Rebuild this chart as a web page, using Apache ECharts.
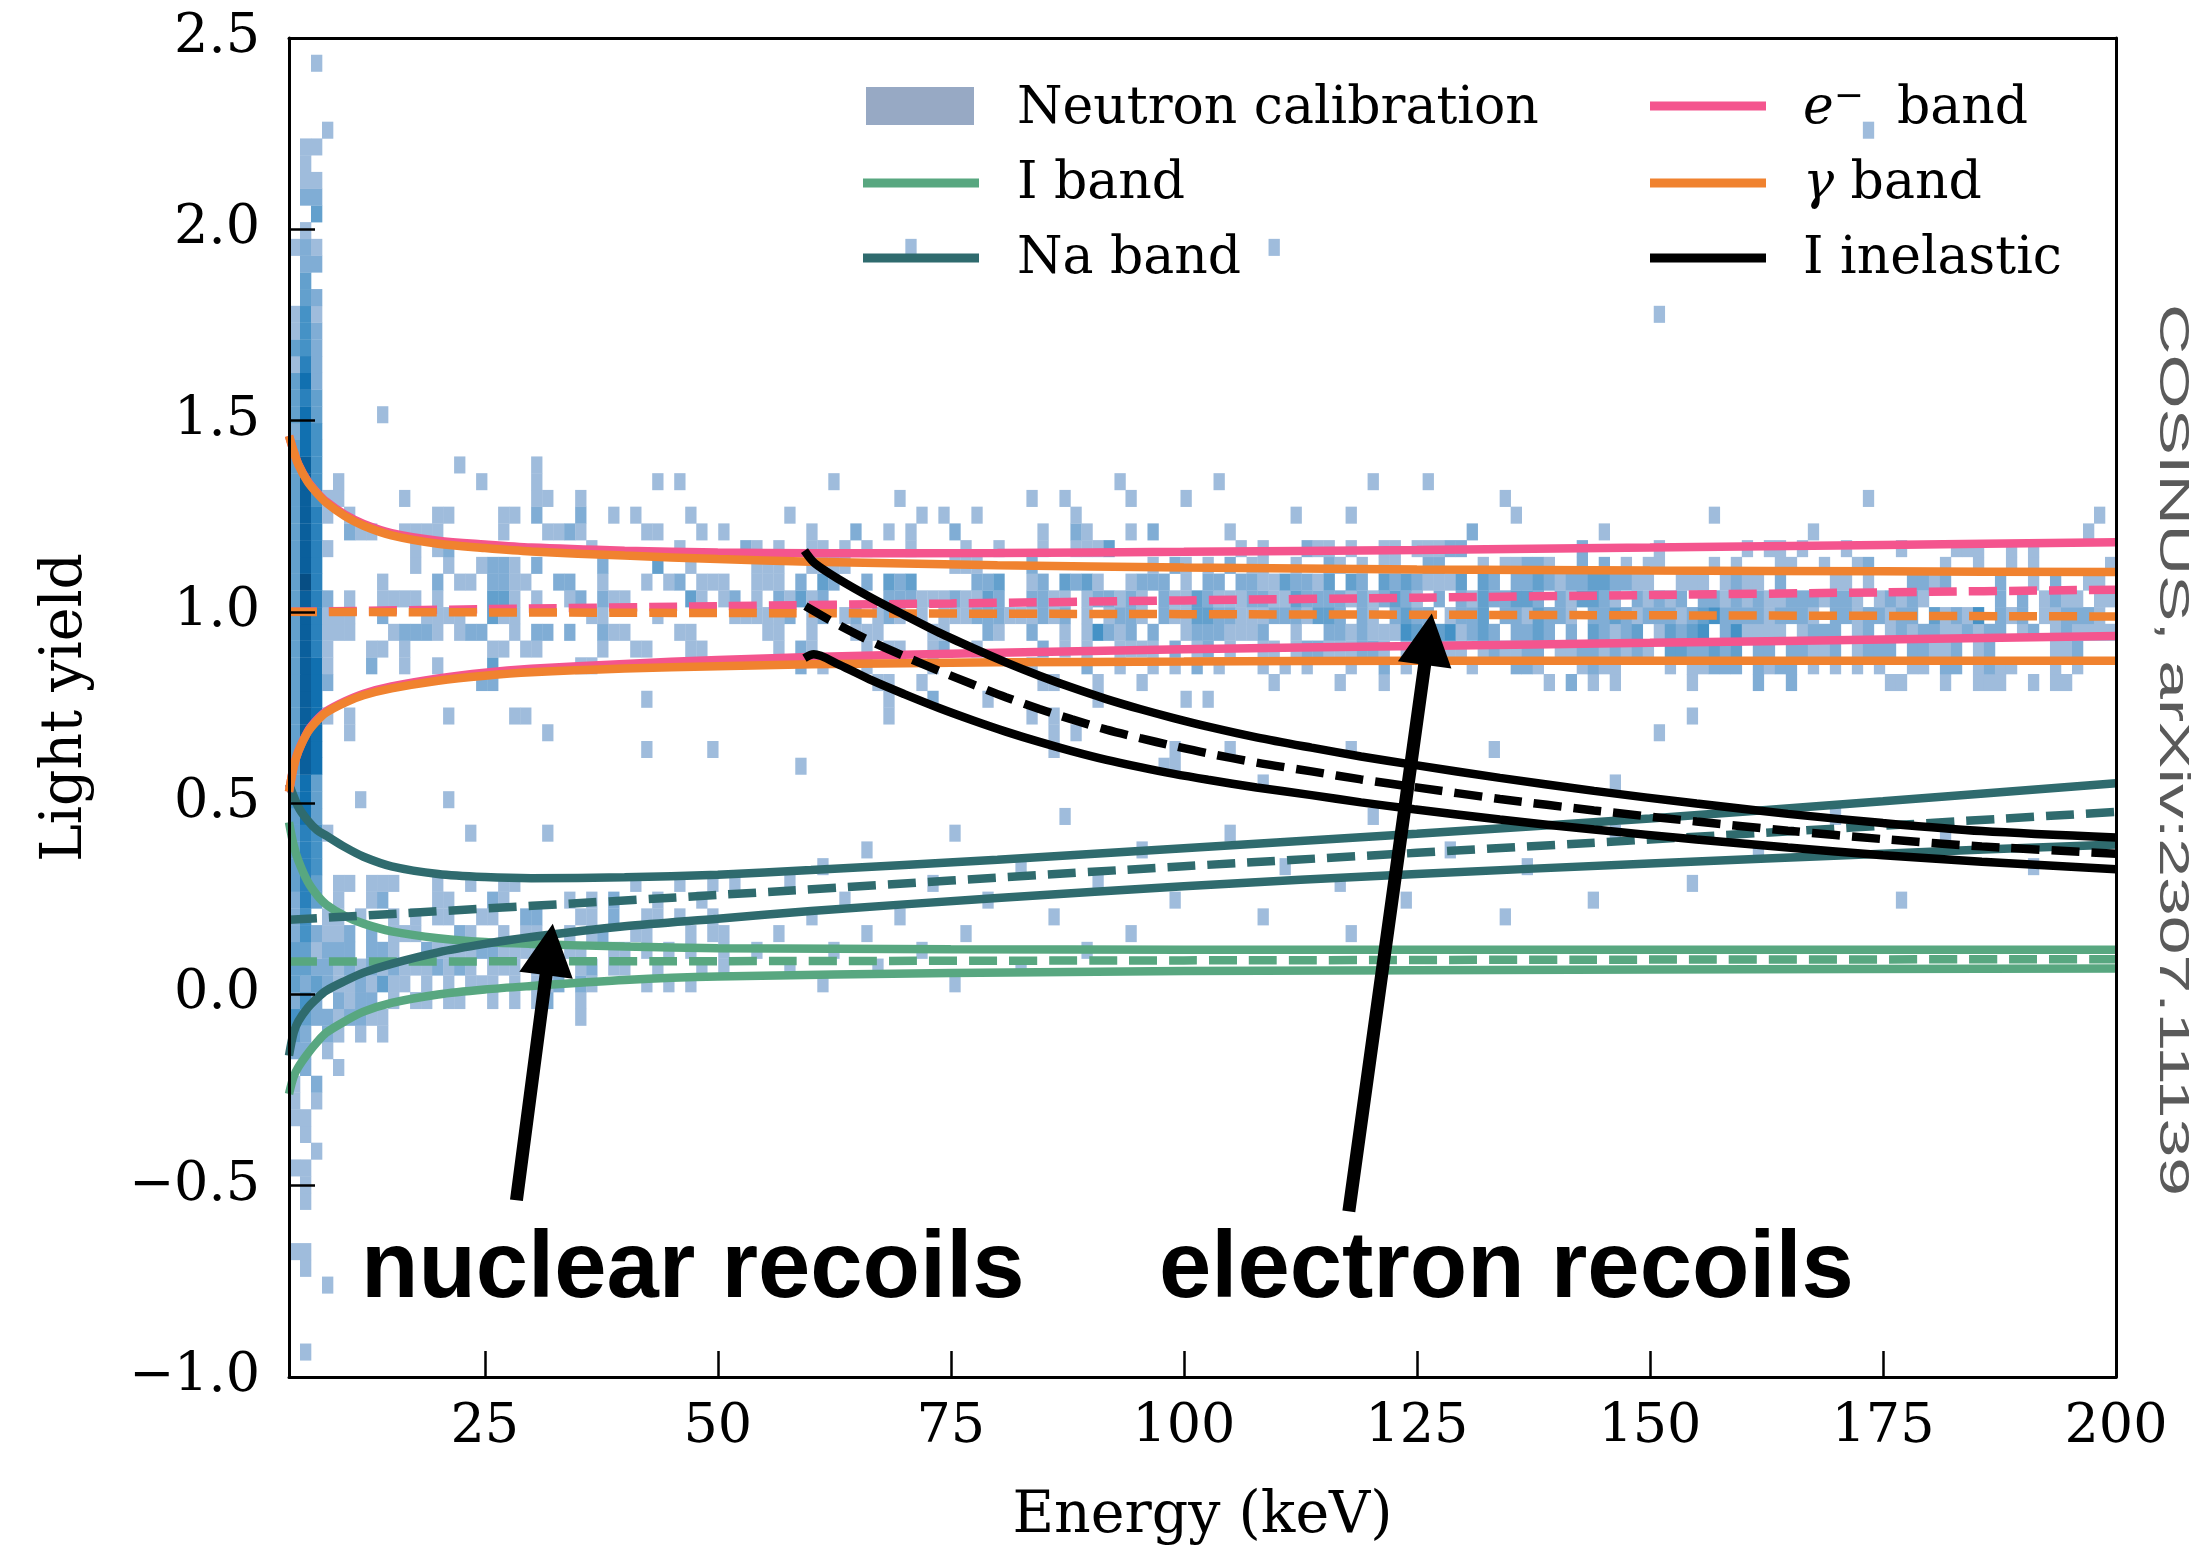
<!DOCTYPE html>
<html><head><meta charset="utf-8">
<script src="https://cdn.jsdelivr.net/npm/echarts@6/dist/echarts.min.js"></script>
<style>html,body{margin:0;padding:0;background:#fff}#c{width:2203px;height:1550px}</style>
</head><body><div id="c"></div>
<script>
// ---------------- axes ----------------
const xMin = 4, xMax = 200, yMin = -1, yMax = 2.5;
const xTickValues = [25, 50, 75, 100, 125, 150, 175, 200];
const yInterval = 0.5;

// ---------------- 2D histogram (Neutron calibration) ----------------
// bins: 166 in energy (4..200 keV), 80 in light yield (-1..2.5)
const binCountX = 166, binCountY = 80;
// colour level per cell (1 = few counts ... 8 = many counts)
const levelColors = ['#9fbcdc', '#80add5', '#63a0cd', '#4592c6', '#2a81bc', '#1170b0', '#0a5f9c', '#074e84'];
// row index (light-yield bin) -> "startColumn:levels" segments ('.' = empty)
const histRows = {
  78: "2:1",
  74: "3:1 143:1",
  73: "1:11",
  72: "1:1",
  71: "1:11",
  70: "1:22",
  69: "2:3",
  68: "1:1",
  67: "0:121 56:1 89:1",
  66: "1:22",
  65: "1:3",
  64: "1:32",
  63: "0:141 124:1",
  62: "0:142",
  61: "0:342",
  60: "0:152",
  59: "0:362",
  58: "0:353",
  57: "0:363 8:1",
  56: "0:264",
  55: "0:364",
  54: "0:374 15:1 22:1",
  53: "0:374 4:1 17:1 22:1 33:1 35:1 49:1 75:1 84:1 98:1 103:1",
  52: "0:37411 10:1 22:11 26:1 55:1 67:1 70:1 76:1 81:1 110:1 143:1",
  51: "0:3751.1 13:11 19:11 22:2 26:2 29:1 31:1 36:1 45:1 57:1 59:1 62:1 71:1 91:1 96:1 111:1 129:1 164:1",
  50: "0:375..211 10:1111 19:1 23:1121 32:11 37:1 39:1 47:1 51:2 54:1 56:1 60:2 68:1 71:21 76:1 78:2 85:1 107:2 119:1 138:1 163:1",
  49: "0:3751 11:1 13:12 27:1 35:1 41:21 44:1 47:11 50:1 52:1 56:1 61:1 64:1 68:1 71:1113 86:1 88:1 92:211 96:1 99:11 102:11 104:122 117:2 124:1 132:1 134:11 137:1 141:1 146:1 151:111 156:1 158:1",
  48: "0:375 11:1 14:1 17:1221 22:2 28:2 33:3 36:1 42:111 47:1111 60:111 67:2 78:1.21.1.2.1 88:1 91:1 94:21 97:1 99:11 103:22 108:1 110:11221 117:2 119:2 121:1 123:11 129:1 131:1 135:11 139:1 142:12 150:1 153:1 156:1 158:1 165:1",
  47: "0:385.....1....2.11.2211..22..1...1.12.111..11 44:1.2.32..2.323.....223..12.3231..1222.1.22.22 88:1132213.32.32321113.32.2232122332211..111.12 132:11.2....11.1...2212....2..1.2..11.",
  46: "0:3752.1..1111.1....331.1..12.211.....31.12.1. 44:21312.....22211121132..2211.122121.211321112 88:211322221212321.2.21322332.213321.21212.2212 132:12112221221.12121......2.2.1211.11",
  45: "0:375111..2...1111..311......11....1......1111 44:12.12.12.121.1.111222111212.1.1221.211332211 88:12221332.21.2322.1223.2213221.22321222123422 132:2212221.22122122.31214.212.112221.",
  44: "0:375111...12221.122..1.22.2..211....11......1 44:1..1...111....11...21..2..1.14212.2..1222111 88:2..1..2212111431341232.2232.2.32123.13234.24 132:1111.1222.12.12122112122.12.121111",
  43: "0:3751...11.1.......11.11.....1..11...11...... 44:1.21....1.11..12..1.....2.1.1..1111.2.12.1.. 88:11.122111221.1.2211.121122.112212121.3322323 132:.22.22112.1222.22112.12.....112...",
  42: "0:3761...2..1..1....3.......11 46:2.1 52:1 58:1 67:1 72:2 75:1 78:1 80:1 82:2 84:1 88:1.1.1 96:1 99:2 101:1 107:1 111:221 117:1211 125:1 127:11222 133:2122.1.1.1.1 147:11 150:22.1211 160:1 162:1",
  41: "0:3762 17:22 53:11 57:1 68:11 73:1 77:1 89:1 95:1 99:1 114:1.2.1.1 127:1 133:2..2 145:11 150:1 153:111 158:1 160:11",
  40: "0:376 32:1 54:1 58:2 63:1 73:1 81:1 83:1",
  39: "0:3761.1 14:1 20:11 54:1 67:1 69:1 127:1",
  38: "0:376..1 23:1 69:1 71:1 124:1",
  37: "0:376 32:1 38:1 69:1 80:1 85:1 96:1 109:1",
  36: "0:376 46:1 79:11",
  35: "0:363 88:1 120:1",
  34: "0:463 6:1 14:1",
  33: "0:363 70:1 98:1 140:1",
  32: "0:3541 16:1 23:1 60:1 85:1 120:1 150:1",
  31: "0:354 52:1 77:1 105:1 133:1",
  30: "0:354 48:1 66:1 90:1 112:1 158:1",
  29: "0:353.11.111...1..1..11 31:1 35:1 38:1 40:1 45:1 58:1 73:1 95:1 127:1",
  28: "0:253.1..12....11...21 25:1 27:1 29:2 33:1 37:1 50:1 63:1 80:1 101:1 118:1 146:1",
  27: "0:24.11.1..1.1.11..11..22...11.2..11.1..1 47:1 55:1 69:1 88:1 110:1",
  26: "0:242112.2.111...21..1.11..1.12..11...1.11 44:1 52:1 61:1 76:1 96:1",
  25: "0:331222.221..211112211111.11..11.1.1.1..1 42:1 49:1 57:1 72:1",
  24: "0:33221212121112121.111.111.12.11..1...1.1 45:1 53:1 66:1",
  23: "0:32321121311.1.1.111.1.112.21....1.1.1. 48:1 60:1",
  22: "0:242.2122.1.11.11..1.1.12..1",
  21: "0:432212211 26:1",
  20: "0:32.21.1.1",
  19: "0:22.1",
  18: "1:2..1",
  17: "0:1.2",
  16: "0:1.1",
  15: "0:11",
  14: "1:1",
  13: "2:1",
  12: "0:11",
  11: "1:1",
  10: "1:1",
  7: "0:11",
  6: "1:1",
  5: "3:1",
  1: "1:1"
};

// ---------------- bands (energy keV, light yield) ----------------
const eUpper = [[4,1.46],[4.5,1.42],[5,1.386],[6,1.342],[7,1.312],[8,1.288],[10,1.254],[12,1.23],[15,1.206],[20,1.186],[25,1.176],[30,1.168],[40,1.16],[50,1.155],[60,1.153],[80,1.154],[100,1.157],[125,1.162],[150,1.168],[175,1.175],[200,1.182]];
const eMean  = [[4,1.0],[25,1.007],[50,1.015],[75,1.022],[100,1.03],[125,1.037],[150,1.044],[175,1.051],[200,1.058]];
const eLower = [[4,0.53],[4.5,0.595],[5,0.636],[6,0.687],[7,0.718],[8,0.74],[10,0.766],[12,0.786],[15,0.805],[20,0.826],[25,0.841],[30,0.851],[40,0.864],[50,0.874],[60,0.882],[80,0.893],[100,0.902],[125,0.911],[150,0.919],[175,0.928],[200,0.937]];

const gUpper = [[4,1.46],[4.5,1.42],[5,1.385],[6,1.34],[7,1.31],[8,1.285],[10,1.25],[12,1.225],[15,1.2],[20,1.178],[25,1.167],[30,1.158],[40,1.147],[50,1.138],[60,1.131],[80,1.122],[100,1.116],[125,1.111],[150,1.108],[175,1.106],[200,1.104]];
const gMean  = [[4,1.0],[50,0.997],[100,0.994],[150,0.991],[200,0.988]];
const gLower = [[4,0.53],[4.5,0.595],[5,0.635],[6,0.685],[7,0.715],[8,0.737],[10,0.763],[12,0.782],[15,0.8],[20,0.82],[25,0.833],[30,0.842],[40,0.852],[50,0.858],[60,0.863],[80,0.868],[100,0.87],[125,0.872],[150,0.872],[175,0.872],[200,0.872]];

const iUpper = [[4,0.45],[4.5,0.39],[5,0.35],[6,0.295],[7,0.26],[8,0.235],[10,0.205],[12,0.185],[15,0.165],[20,0.147],[25,0.137],[30,0.132],[40,0.125],[50,0.121],[75,0.118],[100,0.117],[150,0.117],[200,0.117]];
const iMean  = [[4,0.086],[50,0.087],[100,0.089],[150,0.091],[200,0.092]];
const iLower = [[4,-0.26],[4.5,-0.215],[5,-0.19],[6,-0.155],[7,-0.125],[8,-0.1],[10,-0.07],[12,-0.045],[15,-0.022],[20,0.0],[25,0.013],[30,0.022],[40,0.038],[50,0.047],[75,0.056],[100,0.061],[150,0.065],[200,0.068]];

const naUpper = [[4,0.55],[5,0.49],[6,0.455],[7,0.43],[8,0.415],[10,0.385],[12,0.36],[15,0.335],[20,0.315],[25,0.307],[30,0.304],[40,0.306],[50,0.313],[60,0.325],[80,0.352],[100,0.382],[125,0.42],[150,0.46],[175,0.505],[200,0.552]];
const naMean  = [[4,0.195],[50,0.26],[100,0.335],[150,0.405],[200,0.477]];
const naLower = [[4,-0.16],[4.5,-0.1],[5,-0.07],[6,-0.035],[7,-0.01],[8,0.01],[10,0.035],[12,0.057],[15,0.08],[20,0.11],[25,0.132],[30,0.15],[40,0.178],[50,0.198],[60,0.218],[80,0.252],[100,0.283],[125,0.315],[150,0.342],[175,0.368],[200,0.392]];

const inelUpper = [[59.3,1.16],[60.4,1.127],[63,1.085],[66.6,1.035],[70,0.992],[73.8,0.945],[77.4,0.905],[80.9,0.868],[84.5,0.833],[88,0.802],[91.7,0.772],[95.3,0.746],[98.8,0.723],[102.6,0.7],[107.8,0.672],[113.7,0.645],[119,0.622],[124.7,0.6],[133.9,0.566],[144,0.532],[155,0.499],[164.8,0.472],[175,0.448],[185.6,0.427],[200,0.41]];
const inelMean  = [[59.4,1.015],[63,0.965],[66.5,0.922],[70.2,0.882],[73.8,0.845],[77.4,0.81],[80.9,0.777],[84.5,0.746],[88,0.719],[91.7,0.692],[95.3,0.67],[98.8,0.65],[102.6,0.63],[107.8,0.606],[113.7,0.583],[119,0.562],[124.7,0.542],[133.9,0.511],[144,0.481],[155,0.452],[164.8,0.428],[175,0.406],[185.6,0.387],[200,0.368]];
const inelLower = [[59.3,0.879],[60.3,0.889],[63,0.862],[66.6,0.82],[70,0.785],[73.8,0.748],[77.4,0.716],[80.9,0.687],[84.5,0.66],[88,0.636],[91.7,0.613],[95.3,0.594],[98.8,0.577],[102.6,0.561],[107.8,0.541],[113.7,0.521],[119,0.502],[124.7,0.484],[133.9,0.457],[144,0.431],[155,0.405],[164.8,0.384],[175,0.364],[185.6,0.347],[200,0.327]];

// annotation arrows: [tail, tip] in (keV, light yield)
const nrArrow = [[28.4, -0.538], [32.3, 0.185]];
const erArrow = [[117.7, -0.567], [126.6, 0.996]];

// colours
const C = { pink: '#f4558e', orange: '#f0822f', iband: '#58a780', na: '#2f6b6e', black: '#000000', patch: '#97a9c4' };

// ---------------- build ----------------
const binW = (xMax - xMin) / binCountX, binH = (yMax - yMin) / binCountY;
const histData = [];
Object.keys(histRows).forEach(k => {
  const j = +k;
  histRows[k].split(' ').forEach(seg => {
    const [s, chars] = seg.split(':');
    for (let i = 0; i < chars.length; i++) {
      const ch = chars[i];
      if (ch !== '.') {
        const col = +s + i;
        histData.push([xMin + col * binW, yMin + j * binH, +ch]);
      }
    }
  });
});

const chart = echarts.init(document.getElementById('c'));
const serif = 'DejaVu Serif';
const LW = 8.5;
const dash = [28, 12];
function line(name, data, color, dashed, z) {
  return { type: 'line', name, data, showSymbol: false, symbol: 'none', smooth: 0.3,
    lineStyle: { color, width: LW, type: dashed ? dash : 'solid', cap: 'butt' }, z, silent: true };
}
const option = {
  animation: false,
  backgroundColor: '#ffffff',
  grid: { left: 289, right: 87, top: 38, bottom: 173, containLabel: false, outerBoundsMode: 'none' },
  xAxis: [{
    type: 'value', min: xMin, max: xMax, z: 10,
    axisLine: { show: true, onZero: false, lineStyle: { color: '#000', width: 3 } },
    axisTick: { show: true, inside: true, length: 26, lineStyle: { color: '#000', width: 2.5 }, customValues: xTickValues },
    axisLabel: { show: true, margin: 24, color: '#000', fontFamily: serif, fontSize: 54, customValues: xTickValues },
    splitLine: { show: false },
    name: 'Energy (keV)', nameLocation: 'middle', nameGap: 112,
    nameTextStyle: { color: '#000', fontFamily: serif, fontSize: 57 }
  }, {
    type: 'value', min: xMin, max: xMax, position: 'top', z: 10,
    axisLine: { show: true, onZero: false, lineStyle: { color: '#000', width: 3 } },
    axisTick: { show: false }, axisLabel: { show: false }, splitLine: { show: false }
  }],
  yAxis: [{
    type: 'value', min: yMin, max: yMax, interval: yInterval, z: 10,
    axisLine: { show: true, onZero: false, lineStyle: { color: '#000', width: 3 } },
    axisTick: { show: true, inside: true, length: 26, lineStyle: { color: '#000', width: 2.5 } },
    axisLabel: { margin: 29, color: '#000', fontFamily: serif, fontSize: 54,
      formatter: v => (v < 0 ? '\u2212' : '') + Math.abs(v).toFixed(1) },
    splitLine: { show: false },
    name: 'Light yield', nameLocation: 'middle', nameGap: 194,
    nameTextStyle: { color: '#000', fontFamily: serif, fontSize: 57 }
  }, {
    type: 'value', min: yMin, max: yMax, interval: yInterval, position: 'right', z: 10,
    axisLine: { show: true, onZero: false, lineStyle: { color: '#000', width: 3 } },
    axisTick: { show: false }, axisLabel: { show: false }, splitLine: { show: false }
  }],
  series: [
    {
      type: 'custom', name: 'Neutron calibration', data: histData, z: 1, clip: true, silent: true,
      encode: { x: 0, y: 1 },
      renderItem: (params, api) => {
        const x0 = api.value(0), y0 = api.value(1), lv = api.value(2);
        const p0 = api.coord([x0, y0 + binH]);
        const p1 = api.coord([x0 + binW, y0]);
        return { type: 'rect', shape: { x: p0[0], y: p0[1], width: p1[0] - p0[0] + 0.3, height: p1[1] - p0[1] + 0.3 },
          style: { fill: levelColors[lv - 1] } };
      }
    },
    line('I band', iUpper, C.iband, false, 2),
    line('I band', iMean, C.iband, true, 2),
    line('I band', iLower, C.iband, false, 2),
    line('Na band', naUpper, C.na, false, 3),
    line('Na band', naMean, C.na, true, 3),
    line('Na band', naLower, C.na, false, 3),
    line('e band', eUpper, C.pink, false, 4),
    line('e band', eMean, C.pink, true, 4),
    line('e band', eLower, C.pink, false, 4),
    line('gamma band', gUpper, C.orange, false, 5),
    line('gamma band', gMean, C.orange, true, 5),
    line('gamma band', gLower, C.orange, false, 5),
    line('I inelastic', inelUpper, C.black, false, 6),
    line('I inelastic', inelMean, C.black, true, 6),
    line('I inelastic', inelLower, C.black, false, 6)
  ]
};
chart.setOption(option);

// ---------------- overlay graphics ----------------
function arrowPolygon(tail, tip) {
  const a = chart.convertToPixel({ gridIndex: 0 }, tail);
  const b = chart.convertToPixel({ gridIndex: 0 }, tip);
  const dx = b[0] - a[0], dy = b[1] - a[1], L = Math.hypot(dx, dy);
  const ux = dx / L, uy = dy / L, nx = -uy, ny = ux;
  const headLen = 52, headHalf = 27, shaftHalf = 6.5;
  const bx = b[0] - ux * headLen, by = b[1] - uy * headLen;
  return [
    [a[0] + nx * shaftHalf, a[1] + ny * shaftHalf],
    [bx + nx * shaftHalf, by + ny * shaftHalf],
    [bx + nx * headHalf, by + ny * headHalf],
    [b[0], b[1]],
    [bx - nx * headHalf, by - ny * headHalf],
    [bx - nx * shaftHalf, by - ny * shaftHalf],
    [a[0] - nx * shaftHalf, a[1] - ny * shaftHalf]
  ];
}
const legText = (x, y, text, rich) => ({ type: 'text', x, y, z: 100, silent: true,
  style: { text, fill: '#000', fontFamily: serif, fontSize: 52, align: 'left', verticalAlign: 'middle', rich } });
const legLine = (x1, x2, y, color) => ({ type: 'line', z: 100, silent: true,
  shape: { x1, y1: y, x2, y2: y }, style: { stroke: color, lineWidth: 9 } });
const richE = {
  it: { fontFamily: serif, fontSize: 52, fontStyle: 'italic' },
  sup: { fontFamily: serif, fontSize: 36, verticalAlign: 'top', padding: [0, 0, 22, 0] },
  n: { fontFamily: serif, fontSize: 52 }
};

chart.setOption({
  graphic: [
    // legend
    { type: 'rect', z: 100, silent: true, shape: { x: 866, y: 87, width: 108, height: 38 }, style: { fill: C.patch } },
    legText(1017, 109, 'Neutron calibration'),
    legLine(863, 979, 183, C.iband), legText(1017, 184, 'I band'),
    legLine(863, 979, 258, C.na), legText(1017, 259, 'Na band'),
    legLine(1650, 1766, 106, C.pink), legText(1803, 109, '{it|e}{sup|\u2212}{n|  band}', richE),
    legLine(1650, 1766, 183, C.orange), legText(1803, 184, '{it|\u03b3}{n| band}', richE),
    legLine(1650, 1766, 258, C.black), legText(1803, 259, 'I inelastic'),
    // arrows
    { type: 'polygon', z: 90, silent: true, shape: { points: arrowPolygon(nrArrow[0], nrArrow[1]) }, style: { fill: '#000' } },
    { type: 'polygon', z: 90, silent: true, shape: { points: arrowPolygon(erArrow[0], erArrow[1]) }, style: { fill: '#000' } },
    // annotation texts
    { type: 'text', z: 100, silent: true, x: 361, y: 1271,
      style: { text: 'nuclear recoils', fill: '#000', fontFamily: 'Liberation Sans', fontWeight: 'bold', fontSize: 94, align: 'left', verticalAlign: 'middle' } },
    { type: 'text', z: 100, silent: true, x: 1159, y: 1271,
      style: { text: 'electron recoils', fill: '#000', fontFamily: 'Liberation Sans', fontWeight: 'bold', fontSize: 94, align: 'left', verticalAlign: 'middle' } },
    // side credit
    { type: 'text', z: 100, silent: true, x: 2172, y: 750, rotation: -Math.PI / 2, scaleX: 1.62, scaleY: 1,
      style: { text: 'COSINUS, arXiv:2307.11139', fill: '#5a5a5a', fontFamily: 'Liberation Sans', fontSize: 43, align: 'center', verticalAlign: 'middle' } }
  ]
});
</script>
</body></html>
